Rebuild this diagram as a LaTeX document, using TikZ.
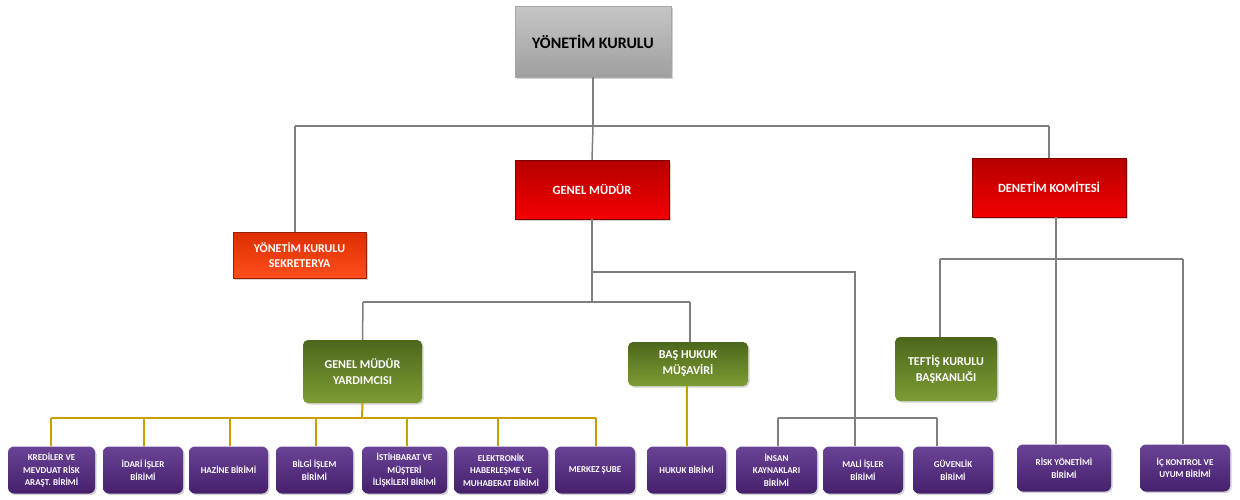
\documentclass[tikz,border=0pt]{standalone}
\usepackage{fontspec}
\setmainfont{Carlito}
\usetikzlibrary{shadows}
\definecolor{lineg}{HTML}{7F7F7F}
\definecolor{goldl}{HTML}{C9A000}
\definecolor{redtop}{HTML}{B50000}
\definecolor{redbot}{HTML}{F40000}
\definecolor{orgtop}{HTML}{DD2E00}
\definecolor{orgbot}{HTML}{FF4E1C}
\definecolor{grntop}{HTML}{4C671C}
\definecolor{grnbot}{HTML}{7E9C34}
\definecolor{purtop}{HTML}{6A4396}
\definecolor{purmid}{HTML}{5A3287}
\definecolor{purbot}{HTML}{45206C}
\tikzset{
  basebox/.style={align=center, inner sep=2pt, font=\bfseries,
    drop shadow={shadow xshift=1.5pt, shadow yshift=-1.5pt, opacity=0.35}},
  graybox/.style={basebox, top color=gray!45, middle color=white, bottom color=gray!75,
    draw=gray!70, line width=0.6pt, text=black, font=\bfseries\fontsize{16}{18}\selectfont},
  redbox/.style={basebox, top color=redtop, bottom color=redbot, draw=red!50!black, line width=0.5pt,
    text=white, font=\bfseries\fontsize{12.5}{15}\selectfont},
  orgbox/.style={basebox, top color=orgtop, bottom color=orgbot, draw=orgtop!70!black, line width=0.5pt,
    text=white, font=\bfseries\fontsize{12}{15}\selectfont},
  grnbox/.style={basebox, top color=grntop, bottom color=grnbot, rounded corners=5pt,
    text=white, font=\bfseries\fontsize{12}{16}\selectfont},
  purbox/.style={basebox, top color=purtop, middle color=purmid, bottom color=purbot, rounded corners=6pt,
    text=white, minimum height=47pt, inner sep=1pt, font=\bfseries\fontsize{9}{12.5}\selectfont},
  gline/.style={draw=lineg, line width=1.5pt},
  yline/.style={draw=goldl, line width=2pt},
}
\begin{document}
\begin{tikzpicture}[x=1pt,y=-1pt]
\useasboundingbox (0,0) rectangle (1240,499);
% top level
\node[graybox, minimum width=156pt, minimum height=71pt] (yk) at (593,41.5) {YÖNETİM KURULU};
\node[redbox, minimum width=154pt, minimum height=59pt] (gm) at (592,189.5) {GENEL MÜDÜR};
\node[redbox, minimum width=154pt, minimum height=59pt] (dk) at (1049,187.5) {DENETİM KOMİTESİ};
\node[orgbox, minimum width=133pt, minimum height=46pt] (sek) at (299.5,255) {YÖNETİM KURULU\\SEKRETERYA};
\node[grnbox, minimum width=119pt, minimum height=63pt] (gmy) at (362.5,371.5) {GENEL MÜDÜR\\YARDIMCISI};
\node[grnbox, minimum width=120pt, minimum height=44pt] (bh) at (688,364) {BAŞ HUKUK\\MÜŞAVİRİ};
\node[grnbox, minimum width=102pt, minimum height=64pt] (tk) at (946,369) {TEFTİŞ KURULU\\BAŞKANLIĞI};
% bottom row
\node[purbox, minimum width=87pt] (kred) at (51.5,470) {KREDİLER VE\\MEVDUAT RİSK\\ARAŞT. BİRİMİ};
\node[purbox, minimum width=80pt] (idari) at (143,470) {İDARİ İŞLER\\BİRİMİ};
\node[purbox, minimum width=79pt] (haz) at (228.5,470) {HAZİNE BİRİMİ};
\node[purbox, minimum width=77pt] (bilgi) at (314.5,470) {BİLGİ İŞLEM\\BİRİMİ};
\node[purbox, minimum width=85pt] (ist) at (404.5,470) {İSTİHBARAT VE\\MÜŞTERİ\\İLİŞKİLERİ BİRİMİ};
\node[purbox, minimum width=94pt] (elek) at (501,470) {ELEKTRONİK\\HABERLEŞME VE\\MUHABERAT BİRİMİ};
\node[purbox, minimum width=80pt] (merk) at (595,470) {MERKEZ ŞUBE};
\node[purbox, minimum width=79pt] (huk) at (686.5,470) {HUKUK BİRİMİ};
\node[purbox, minimum width=81pt] (insan) at (776.5,470) {İNSAN\\KAYNAKLARI\\BİRİMİ};
\node[purbox, minimum width=80pt] (mali) at (863,470) {MALİ İŞLER\\BİRİMİ};
\node[purbox, minimum width=80pt] (guv) at (953,470) {GÜVENLİK\\BİRİMİ};
\node[purbox, minimum width=94pt] (risk) at (1064,468) {RİSK YÖNETİMİ\\BİRİMİ};
\node[purbox, minimum width=90pt] (ick) at (1185,468) {İÇ KONTROL VE\\UYUM BİRİMİ};
% junction coordinates
\coordinate (j1) at (593,126);
\coordinate (j1l) at (295,126);
\coordinate (j1r) at (1049,126);
\coordinate (j2) at (592,302);
\coordinate (j2l) at (363,302);
\coordinate (j2r) at (690,302);
\coordinate (j3) at (592,272);
\coordinate (j3r) at (855,272);
\coordinate (j4l) at (778,418);
\coordinate (j4r) at (937,418);
\coordinate (j5) at (1056,259);
\coordinate (j5l) at (940,259);
\coordinate (j5r) at (1183,259);
\coordinate (y0) at (362,418);
\coordinate (yl) at (51,418);
\coordinate (yr) at (596,418);
% gray connectors
\draw[gline] (yk.south) -- (j1);
\draw[gline] (j1l) -- (j1r);
\draw[gline] (j1l) -- (j1l |- sek.north);
\draw[gline] (j1) -- (gm.north);
\draw[gline] (j1r) -- (dk.north);
\draw[gline] (gm.south) -- (j2);
\draw[gline] (j2l) -- (j2r);
\draw[gline] (j2l) -- (gmy.north);
\draw[gline] (j2r) -- (j2r |- bh.north);
\draw[gline] (j3) -- (j3r) -- (j3r |- mali.north);
\draw[gline] (j4l) -- (j4r);
\draw[gline] (j4l) -- (j4l |- insan.north);
\draw[gline] (j4r) -- (j4r |- guv.north);
\draw[gline] (dk.south -| j5) -- (j5);
\draw[gline] (j5l) -- (j5r);
\draw[gline] (j5l) -- (j5l |- tk.north);
\draw[gline] (j5) -- (j5 |- risk.north);
\draw[gline] (j5r) -- (j5r |- ick.north);
% gold connectors
\draw[yline] (gmy.south) -- (y0);
\draw[yline] (yl) -- (yr);
\draw[yline] (yl) -- (yl |- kred.north);
\draw[yline] (y0 -| 144,0) -- (idari.north -| 144,0);
\draw[yline] (y0 -| 230,0) -- (haz.north -| 230,0);
\draw[yline] (y0 -| 316,0) -- (bilgi.north -| 316,0);
\draw[yline] (y0 -| 407,0) -- (ist.north -| 407,0);
\draw[yline] (y0 -| 498,0) -- (elek.north -| 498,0);
\draw[yline] (yr) -- (yr |- merk.north);
\draw[yline] (bh.south -| huk.north) -- (huk.north);
\end{tikzpicture}
\end{document}
